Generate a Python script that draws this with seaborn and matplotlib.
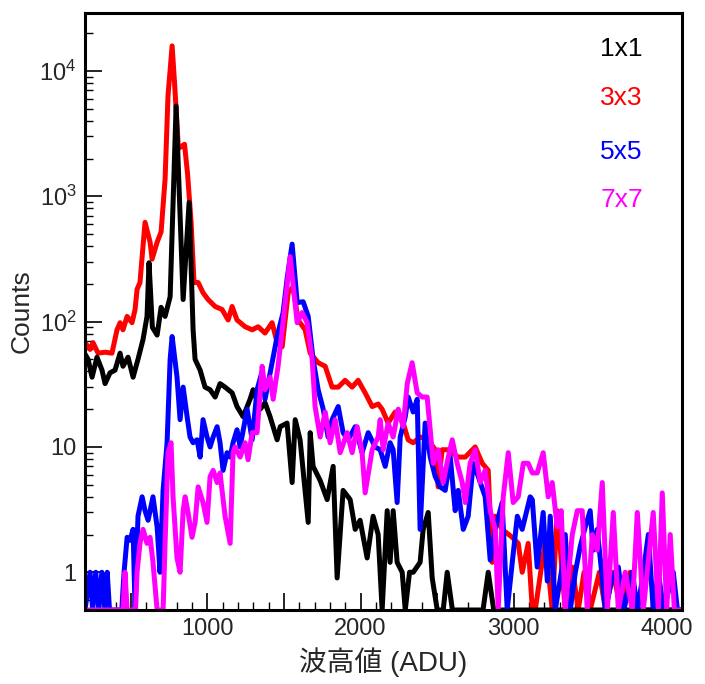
import numpy as np
import pandas as pd
import matplotlib
matplotlib.use('Agg')
import matplotlib.pyplot as plt
import seaborn as sns
from matplotlib.ticker import MultipleLocator, LogLocator, FuncFormatter, NullFormatter

# 3x3 binning
red_x = [200, 233, 252, 285, 331, 376, 409, 429, 448, 475,
         507, 527, 540, 559, 592, 625, 638, 671, 697, 723,
         742, 769, 785, 810, 850, 870, 893, 912, 939, 971,
         1004, 1050, 1095, 1135, 1161, 1193, 1246, 1292, 1331, 1376,
         1422, 1455, 1488, 1527, 1559, 1592, 1638, 1671, 1723, 1769,
         1814, 1854, 1899, 1945, 1984, 2030, 2076, 2115, 2141, 2180,
         2226, 2272, 2311, 2344, 2390, 2442, 2488, 2507, 2533, 2573,
         2638, 2684, 2749, 2795, 2834, 2860, 2880, 2925, 2991, 3030,
         3056, 3095, 3122, 3141, 3207, 3252, 3285, 3337, 3383, 3422,
         3460, 3500, 3560, 3600, 3650, 3700, 3760, 3800, 4100]
red_y = [68, 60, 68, 56, 57, 56, 86, 98, 86, 110,
         98, 125, 181, 205, 620, 430, 315, 430, 520, 1370,
         6300, 15850, 8000, 2400, 2600, 1500, 620, 205, 205, 170,
         150, 132, 125, 103, 132, 103, 91, 86, 91, 81,
         98, 68, 63, 170, 190, 103, 86, 56, 47, 44,
         30, 30, 34, 30, 34, 27, 21, 22, 20, 15.5,
         19, 16.5, 11.4, 10.8, 12, 11.4, 9.5, 4.8, 9.5, 9.5,
         8.3, 8.3, 10, 7.4, 6.5, 1.2, 2.8, 2.2, 1.9, 1.7,
         1, 1.7, 0, 0, 1.8, 0, 3.1, 0, 1.1, 0,
         1, 0, 1, 0, 1, 0, 1, 0, 0]

# 1x1 binning
black_x = [200, 220, 246, 278, 311, 331, 363, 396, 429, 448,
           481, 514, 546, 579, 605, 618, 640, 671, 697, 723,
           756, 795, 841, 880, 906, 919, 952, 984, 1017, 1050,
           1082, 1115, 1161, 1193, 1233, 1278, 1298, 1344, 1376, 1409,
           1455, 1475, 1520, 1553, 1573, 1605, 1658, 1671, 1690, 1736,
           1782, 1821, 1847, 1886, 1932, 1965, 1997, 2043, 2082, 2115,
           2141, 2174, 2193, 2213, 2239, 2272, 2292, 2320, 2344, 2389,
           2409, 2442, 2468, 2501, 2540, 2566, 2600, 2650, 2700, 2750,
           2800, 2834, 2870, 4100]
black_y = [55, 50, 36, 52, 41, 32, 39, 41, 56, 44,
           52, 36, 50, 72, 110, 295, 90, 78, 130, 110,
           158, 5250, 150, 896, 86, 50, 41, 30, 28.6, 25,
           32, 30, 27, 21, 17.4, 24, 28.6, 20, 22.5, 17.4,
           11.4, 14.5, 15.5, 5.2, 16.5, 11.4, 2.5, 13, 7, 5.4,
           3.8, 7, 0.9, 4.5, 3.8, 2.2, 2.6, 1.3, 2.8, 2,
           0, 3.1, 1.2, 3.1, 1.2, 1, 0, 1, 1, 1.2,
           2.2, 3, 0.9, 0, 0, 1, 0, 0, 0, 0,
           0, 1, 0, 0]

# 5x5 binning
blue_x = [200, 233, 250, 270, 290, 310, 330, 345, 360, 440,
          455, 475, 494, 514, 527, 546, 573, 592, 612, 644,
          671, 690, 710, 736, 756, 769, 801, 821, 841, 867,
          886, 906, 932, 952, 971, 997, 1017, 1037, 1063, 1082,
          1102, 1128, 1148, 1167, 1193, 1213, 1259, 1292, 1324, 1357,
          1376, 1409, 1455, 1494, 1520, 1553, 1586, 1625, 1658, 1690,
          1723, 1756, 1788, 1814, 1854, 1886, 1919, 1965, 2010, 2050,
          2095, 2128, 2161, 2193, 2213, 2239, 2259, 2292, 2311, 2344,
          2370, 2389, 2422, 2455, 2488, 2520, 2553, 2586, 2618, 2638,
          2671, 2703, 2736, 2769, 2814, 2847, 2880, 2925, 2958, 2991,
          3024, 3056, 3108, 3122, 3154, 3193, 3220, 3239, 3272, 3317,
          3337, 3370, 3403, 3435, 3468, 3500, 3520, 3546, 3579, 3599,
          3644, 3684, 3720, 3775, 3810, 3847, 3880, 3912, 3945, 3980,
          4043, 4070, 4100]
blue_y = [0, 1, 0, 1, 0, 1, 0, 1, 0, 0,
          1, 1.9, 1.8, 2.2, 0, 2.8, 4, 3.1, 2.6, 4,
          2.3, 1, 4.5, 10.8, 50, 76, 36, 16.5, 30, 17.4,
          12, 10.8, 11.4, 8.3, 16.5, 12, 10, 12, 14.5, 10.8,
          6.5, 9, 8.3, 10.8, 13.7, 10, 20, 11.4, 28.6, 40,
          24, 39, 76, 118, 220, 415, 142, 144, 110, 50,
          28.6, 20, 12, 16.5, 21, 13, 11.4, 14.5, 9, 13,
          10, 9.5, 7, 10.8, 9.5, 3.6, 12, 17.4, 25, 19,
          24, 2.2, 15.5, 8.3, 5.8, 4.8, 4.5, 8.3, 3.1, 4.5,
          2.2, 2.8, 7.4, 5.8, 4, 1.25, 2.2, 3.6, 0, 1.2,
          2.8, 2.2, 4, 3.8, 1.1, 3, 0.85, 2.8, 0, 1.1,
          2, 0, 1, 1.6, 2.3, 3.1, 1.5, 2.2, 0.9, 0,
          0.9, 1.1, 0, 1, 0, 1, 2, 0, 1, 0,
          1, 0, 0]

# 7x7 binning
mag_x = [200, 448, 461, 475, 530, 540, 559, 579, 605, 625,
         644, 671, 710, 723, 742, 762, 775, 801, 821, 841,
         854, 873, 899, 919, 939, 971, 997, 1017, 1037, 1063,
         1082, 1115, 1148, 1167, 1180, 1213, 1246, 1265, 1292, 1324,
         1357, 1376, 1409, 1429, 1461, 1494, 1540, 1586, 1618, 1651,
         1684, 1703, 1736, 1769, 1801, 1834, 1867, 1912, 1945, 1978,
         2010, 2030, 2076, 2115, 2128, 2148, 2180, 2213, 2246, 2278,
         2305, 2337, 2370, 2403, 2435, 2455, 2475, 2507, 2540, 2573,
         2599, 2631, 2664, 2684, 2716, 2749, 2782, 2814, 2847, 2880,
         2899, 2932, 2965, 2997, 3030, 3063, 3095, 3122, 3154, 3193,
         3226, 3252, 3285, 3311, 3337, 3383, 3416, 3448, 3481, 3514,
         3546, 3579, 3612, 3651, 3684, 3729, 3775, 3808, 3847, 3912,
         3945, 3971, 4000, 4023, 4050, 4100]
mag_y = [0, 0, 1, 0, 0, 1, 1.7, 2.2, 1.7, 1.9,
         1.2, 0, 0, 1.7, 9, 10.8, 4, 1.3, 1, 3.1,
         4, 3, 1.9, 2.5, 4.8, 3.6, 2.5, 5.8, 6.5, 5.2,
         6.2, 2.8, 1.7, 9, 10, 8.3, 10.8, 7.9, 13, 13,
         44, 28.6, 36, 24, 44, 100, 330, 98, 118, 98,
         50, 21, 12, 19, 10.8, 16.5, 9, 13, 9, 14.5,
         9, 4.3, 9.5, 12, 16.5, 9.5, 15.5, 12, 20, 14.5,
         32, 47, 27, 25, 25, 13.7, 7.4, 9.5, 5.2, 8.3,
         11.4, 7.4, 5.2, 3.6, 7.4, 9.5, 5.2, 6.5, 3.1, 2.2,
         0, 4, 9, 3.6, 4, 7.4, 7.4, 6.2, 6.2, 9,
         4, 5.2, 2.3, 3.1, 0, 2, 3.1, 3.1, 0, 2,
         1.5, 5.2, 0, 3, 0, 1, 0, 3, 0, 3,
         0, 4.3, 0, 2, 0, 0]

labels = ['1x1', '3x3', '5x5', '7x7']
colors = {'1x1': 'black', '3x3': 'red', '5x5': 'blue', '7x7': 'magenta'}

sns.set_style('white')
plt.rcParams['font.family'] = ['Liberation Sans', 'Noto Sans CJK JP']
plt.rcParams['mathtext.default'] = 'regular'

ymin, ymax = 0.5, 2.9e4

frames = []
for name, xs, ys in [('3x3', red_x, red_y), ('1x1', black_x, black_y),
                     ('5x5', blue_x, blue_y), ('7x7', mag_x, mag_y)]:
    frames.append(pd.DataFrame({'adu': xs, 'counts': ys, 'binning': name}))
df = pd.concat(frames, ignore_index=True)
# empty bins sit on the lower edge, as in the original plot
df['shown'] = df['counts'].clip(lower=ymin)

fig = plt.figure(figsize=(7.05, 6.84), dpi=100)
ax = fig.add_axes([0.1206, 0.1082, 0.8468, 0.8728])

sns.lineplot(data=df, x='adu', y='shown', hue='binning',
             hue_order=['3x3', '1x1', '5x5', '7x7'], palette=colors,
             estimator=None, sort=False, linewidth=3.6, legend=False, ax=ax,
             solid_joinstyle='round', solid_capstyle='round')

ax.set_yscale('log')
ax.set_xlim(200, 4100)
ax.set_ylim(ymin, ymax)

ax.xaxis.set_major_locator(MultipleLocator(500))
ax.xaxis.set_minor_locator(MultipleLocator(100))
ax.xaxis.set_major_formatter(FuncFormatter(lambda v, p: f'{v:.0f}' if v % 1000 == 0 else ''))


def ylab(v, p):
    if v == 1:
        return '1'
    if v == 10:
        return '10'
    return f'$10^{{{int(round(np.log10(v)))}}}$'


ax.yaxis.set_major_locator(LogLocator(base=10, numticks=10))
ax.yaxis.set_minor_locator(LogLocator(base=10, subs=np.arange(2, 10), numticks=20))
ax.yaxis.set_major_formatter(FuncFormatter(ylab))
ax.yaxis.set_minor_formatter(NullFormatter())

ax.tick_params(which='both', direction='in', bottom=True, left=True,
               top=False, right=False, color='black')
ax.tick_params(which='major', length=12, width=1.2, labelsize=17, pad=6)
ax.tick_params(which='minor', length=6, width=1.0)

for s in ax.spines.values():
    s.set_linewidth(2.2)
    s.set_color('black')
    s.set_zorder(5)

ax.set_xlabel('波高値 (ADU)', fontsize=20, labelpad=5)
ax.set_ylabel('Counts', fontsize=19, labelpad=4)

for lab, yy in zip(labels, [0.94, 0.858, 0.767, 0.687]):
    ax.text(0.863, yy, lab, color=colors[lab], fontsize=19,
            transform=ax.transAxes, ha='left', va='center')

fig.savefig('out.png', dpi=100)
